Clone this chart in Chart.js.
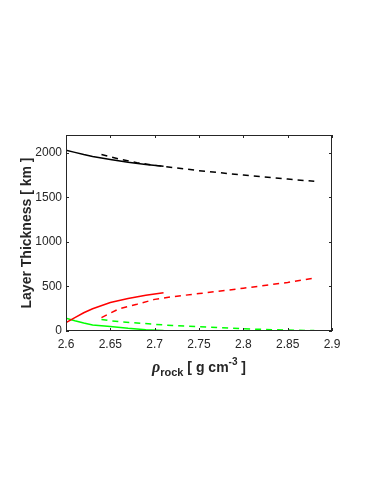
<!DOCTYPE html>
<html>
<head>
<meta charset="utf-8">
<script src="https://cdn.jsdelivr.net/npm/chart.js@4.4.0/dist/chart.umd.min.js"></script>
<style>
  body { margin: 0; background: #fff; }
  #wrap { width: 382px; height: 494px; }
</style>
</head>
<body>
<div id="wrap"><canvas id="chart" width="382" height="494"></canvas></div>
<script>
// density values [g cm^-3]
const rhoA = [2.60, 2.61, 2.62, 2.63, 2.65, 2.67, 2.69, 2.71];
const rhoB = [2.64, 2.65, 2.66, 2.68, 2.70, 2.72, 2.75, 2.80, 2.85, 2.88];

// layer thickness [km]
const blackSolid = [2030, 2005, 1980, 1958, 1925, 1895, 1870, 1850];
const redSolid   = [95, 150, 205, 250, 320, 365, 400, 430];
const greenSolid = [143, 115, 90, 68, 50, 30, 15, 5];

const blackDash = [1980, 1955, 1930, 1890, 1860, 1835, 1800, 1750, 1705, 1680];
const redDash   = [150, 200, 250, 300, 355, 385, 420, 480, 545, 595];
const greenDash = [130, 115, 105, 90, 75, 62, 48, 25, 10, 5];

const xTicks = [2.6, 2.65, 2.7, 2.75, 2.8, 2.85, 2.9];
const yTicks = [0, 500, 1000, 1500, 2000];

function pts(xs, ys) {
    return xs.map((x, i) => ({ x: x, y: ys[i] }));
}

function line(xs, ys, color, dashed) {
    return {
        data: pts(xs, ys),
        borderColor: color,
        borderWidth: 1.5,
        borderDash: dashed ? [6, 5] : [],
        pointRadius: 0,
        fill: false,
        tension: 0,
    };
}

const tickFont = { family: 'Liberation Sans, Arial, sans-serif', size: 12 };

// box frame with inward ticks, plus the axis titles
const framePlugin = {
    id: 'frame',
    afterDraw(chart) {
        const ctx = chart.ctx;
        const a = chart.chartArea;
        const xs = chart.scales.x, ys = chart.scales.y;
        ctx.save();
        ctx.strokeStyle = '#262626';
        ctx.lineWidth = 1;
        ctx.strokeRect(a.left + 0.5, a.top + 0.5, a.right - a.left - 1, a.bottom - a.top - 1);
        ctx.beginPath();
        xTicks.forEach(v => {
            const px = Math.round(xs.getPixelForValue(v)) + 0.5;
            ctx.moveTo(px, a.bottom); ctx.lineTo(px, a.bottom - 3);
            ctx.moveTo(px, a.top); ctx.lineTo(px, a.top + 3);
        });
        yTicks.forEach(v => {
            const py = Math.round(ys.getPixelForValue(v)) + 0.5;
            ctx.moveTo(a.left, py); ctx.lineTo(a.left + 3, py);
            ctx.moveTo(a.right, py); ctx.lineTo(a.right - 3, py);
        });
        ctx.stroke();

        ctx.fillStyle = '#262626';

        // y title
        ctx.save();
        ctx.translate(31, (a.top + a.bottom) / 2);
        ctx.rotate(-Math.PI / 2);
        ctx.font = 'bold 14px Liberation Sans, Arial, sans-serif';
        ctx.textAlign = 'center';
        ctx.textBaseline = 'alphabetic';
        ctx.fillText('Layer Thickness [ km ]', 0, 0);
        ctx.restore();

        // x title: rho_rock [ g cm^-3 ]
        const cx = (a.left + a.right) / 2;
        const base = a.bottom + 41;
        const parts = [
            { t: 'ρ', f: 'italic bold 16px Liberation Serif, serif', dy: 0 },
            { t: 'rock', f: 'bold 11px Liberation Sans, Arial, sans-serif', dy: 4 },
            { t: ' [ g cm', f: 'bold 14px Liberation Sans, Arial, sans-serif', dy: 0 },
            { t: '-3', f: 'bold 10px Liberation Sans, Arial, sans-serif', dy: -7 },
            { t: ' ]', f: 'bold 14px Liberation Sans, Arial, sans-serif', dy: 0 },
        ];
        let total = 0;
        parts.forEach(p => { ctx.font = p.f; p.w = ctx.measureText(p.t).width; total += p.w; });
        let x = cx - total / 2;
        ctx.textBaseline = 'alphabetic';
        ctx.textAlign = 'left';
        parts.forEach(p => { ctx.font = p.f; ctx.fillText(p.t, x, base + p.dy); x += p.w; });
        ctx.restore();
    }
};

const ctx = document.getElementById('chart').getContext('2d');
new Chart(ctx, {
    type: 'line',
    data: {
        datasets: [
            line(rhoA, blackSolid, '#000000', false),
            line(rhoB, blackDash, '#000000', true),
            line(rhoA, redSolid, '#ff0000', false),
            line(rhoB, redDash, '#ff0000', true),
            line(rhoA, greenSolid, '#00ff00', false),
            line(rhoB, greenDash, '#00ff00', true),
        ],
    },
    options: {
        responsive: false,
        animation: false,
        layout: { padding: { left: 0, right: 50, top: 135, bottom: 0 } },
        plugins: { legend: { display: false }, tooltip: { enabled: false } },
        scales: {
            x: {
                type: 'linear',
                min: 2.6, max: 2.9,
                afterBuildTicks: s => { s.ticks = xTicks.map(v => ({ value: v })); },
                afterFit: s => { s.height = 163; },
                grid: { display: false, drawTicks: false },
                border: { display: false },
                ticks: { color: '#262626', font: tickFont, padding: 6, maxRotation: 0,
                         callback: v => String(v) },
            },
            y: {
                min: 0, max: 2200,
                afterBuildTicks: s => { s.ticks = yTicks.map(v => ({ value: v })); },
                afterFit: s => { s.width = 66; },
                grid: { display: false, drawTicks: false },
                border: { display: false },
                ticks: { color: '#262626', font: tickFont, padding: 4, callback: v => String(v) },
            },
        },
    },
    plugins: [framePlugin],
});
</script>
</body>
</html>
